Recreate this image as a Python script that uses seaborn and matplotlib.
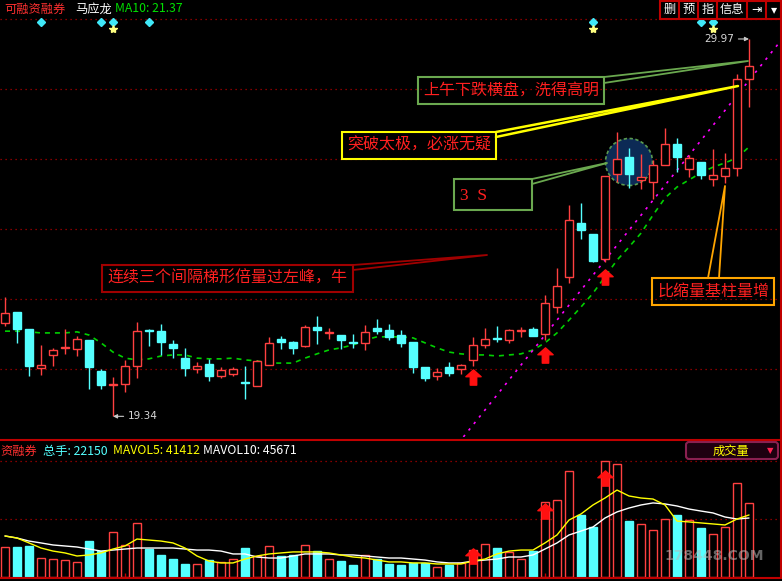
import numpy as np
import pandas as pd
import matplotlib
matplotlib.use('Agg')
import matplotlib.pyplot as plt
import matplotlib.transforms as mtransforms
from matplotlib.patches import Rectangle, Ellipse, FancyBboxPatch
from matplotlib.path import Path
import seaborn as sns

# ---- 日K数据 ----
open_px = [21.97, 22.28, 21.80, 20.70, 21.07, 21.27, 21.24, 21.49, 20.62, 20.22,
           20.25, 20.76, 21.77, 21.74, 21.38, 20.98, 20.67, 20.81, 20.48, 20.53,
           20.31, 20.19, 20.79, 21.52, 21.43, 21.32, 21.86, 21.69, 21.63, 21.43,
           21.41, 21.83, 21.77, 21.63, 21.43, 20.73, 20.48, 20.73, 20.67, 20.93,
           21.35, 21.55, 21.49, 21.74, 21.80, 21.66, 22.42, 23.27, 24.79, 24.48,
           23.77, 26.17, 26.65, 26.00, 25.94, 26.42, 27.01, 26.31, 26.51, 26.03,
           26.11, 26.34, 28.84]
high_px = [22.70, 22.28, 21.80, 21.35, 21.27, 21.80, 21.60, 21.49, 20.67, 20.45,
           20.93, 22.00, 21.80, 21.94, 21.49, 21.27, 20.87, 20.96, 20.73, 20.73,
           20.76, 20.93, 21.58, 21.60, 21.46, 21.91, 22.17, 21.83, 21.63, 21.66,
           21.91, 22.08, 21.94, 21.77, 21.43, 20.73, 20.70, 20.87, 20.81, 21.58,
           21.83, 21.89, 21.80, 21.86, 21.86, 22.76, 23.52, 25.29, 25.35, 24.48,
           26.11, 27.35, 26.90, 26.73, 26.56, 27.46, 27.18, 26.70, 26.51, 26.87,
           26.76, 28.98, 29.97]
low_px = [21.89, 21.41, 20.48, 20.51, 20.76, 21.10, 21.04, 20.11, 20.11, 19.34,
          20.03, 20.42, 21.32, 21.07, 20.98, 20.48, 20.56, 20.34, 20.42, 20.48,
          19.83, 20.19, 20.79, 21.24, 21.10, 21.29, 21.38, 21.52, 21.24, 21.27,
          21.21, 21.66, 21.49, 21.29, 20.56, 20.34, 20.36, 20.48, 20.53, 20.76,
          21.27, 21.43, 21.41, 21.58, 21.60, 21.49, 22.25, 23.10, 24.34, 23.69,
          23.69, 25.94, 25.77, 25.74, 25.46, 26.42, 26.22, 26.08, 26.03, 25.83,
          25.91, 26.11, 28.05]
close_px = [22.25, 21.80, 20.76, 20.79, 21.21, 21.29, 21.52, 20.73, 20.22, 20.25,
            20.76, 21.74, 21.74, 21.43, 21.27, 20.70, 20.76, 20.48, 20.65, 20.67,
            20.28, 20.90, 21.41, 21.43, 21.27, 21.86, 21.77, 21.72, 21.49, 21.41,
            21.72, 21.74, 21.58, 21.41, 20.73, 20.42, 20.59, 20.56, 20.79, 21.35,
            21.52, 21.52, 21.77, 21.77, 21.60, 22.53, 23.01, 24.87, 24.59, 23.72,
            26.11, 26.59, 26.17, 26.08, 26.42, 27.01, 26.65, 26.62, 26.14, 26.14,
            26.34, 28.84, 29.21]
ma10 = [21.74, 21.74, 21.72, 21.69, 21.69, 21.69, 21.72, 21.63, 21.41, 21.15,
        20.98, 20.93, 20.96, 21.04, 21.07, 21.07, 20.98, 20.96, 20.96, 20.98,
        20.93, 20.90, 20.84, 20.84, 20.84, 20.98, 21.10, 21.21, 21.27, 21.35,
        21.49, 21.58, 21.58, 21.58, 21.55, 21.41, 21.27, 21.15, 21.10, 21.07,
        21.07, 21.04, 21.07, 21.10, 21.21, 21.41, 21.69, 22.05, 22.42, 22.81,
        23.27, 23.74, 24.11, 24.50, 25.01, 25.49, 25.80, 26.00, 26.20, 26.36,
        26.48, 26.62, 26.93]

# ---- 成交量 (手) ----
volume = [20700, 20700, 21400, 13100, 12400, 11700, 10400, 24800, 17900, 31100,
          22100, 37300, 19300, 15200, 12400, 9000, 9000, 11700, 10400, 12400,
          20000, 14500, 21400, 14500, 15200, 22100, 17900, 12400, 11000, 8300,
          15200, 12400, 9000, 8300, 9700, 9700, 6900, 8300, 9700, 18600,
          22800, 20000, 17300, 12400, 17900, 51800, 53100, 73100, 42800, 34500,
          80000, 78000, 38600, 36600, 32400, 40000, 42800, 39300, 33800, 29700,
          34500, 64900, 51100]
mavol5 = [28300, 26900, 23500, 20000, 17900, 16600, 14500, 15200, 16600, 19300,
          21400, 26200, 25500, 24800, 23500, 20000, 14500, 11000, 9700, 9700,
          12400, 14500, 15900, 16600, 17300, 17300, 17300, 16600, 15200, 13800,
          13100, 11700, 10400, 10400, 9700, 9700, 9000, 9000, 9000, 11000,
          12400, 15900, 17900, 18600, 18600, 23500, 29000, 39300, 43500, 49700,
          54500, 60000, 55900, 54500, 53800, 49700, 38600, 38000, 37300, 36600,
          35900, 40000, 42800]
mavol10 = [28300, 26900, 24800, 23500, 22100, 21400, 20700, 19300, 17900, 18600,
           19300, 20000, 20000, 20000, 20000, 19300, 18600, 18600, 17900, 15900,
           15900, 13800, 13100, 13100, 14500, 15900, 15900, 15900, 15200, 15200,
           14500, 13800, 13100, 13100, 12400, 11700, 10400, 9700, 9700, 11000,
           11700, 12400, 13800, 13800, 15200, 19300, 23500, 29000, 31700, 34500,
           40700, 44900, 47600, 49700, 51100, 50400, 49000, 46900, 45500, 44200,
           41400, 40000, 40700]

# 信号标记
arrow_idx = [39, 45, 50]
arrow_price = [20.45, 21.07, 23.27]
vol_arrow_val = [14500, 45500, 68300]
diamond_idx = [3, 8, 9, 12, 49, 58, 59]
star_idx = [9, 49, 59]
trend_x = [38.2, 64.6]
trend_y = [18.76, 29.90]

RED = '#ff4040'
CYAN = '#55ffff'
GRID = '#b00000'

sns.set_style('dark', {'axes.facecolor': 'black', 'figure.facecolor': 'black'})
plt.rcParams['font.family'] = ['Noto Sans CJK SC', 'DejaVu Sans']
plt.rcParams['axes.unicode_minus'] = False

idx = np.arange(len(open_px))
o = np.array(open_px)
c = np.array(close_px)
up = c > o

fig = plt.figure(figsize=(7.82, 5.81), dpi=100)
fig.patch.set_facecolor('black')

# ---- 主图 ----
ax = fig.add_axes([0, 144 / 581, 780 / 782, 437 / 581])
ax.set_facecolor('black')

ax.add_patch(Ellipse((52, 26.505), 3.92, 1.324, facecolor='#0c2a55',
                     edgecolor='#5a9a50', linestyle=(0, (2, 1.5)), lw=1.2, zorder=1))

sns.lineplot(x=idx, y=ma10, ax=ax, color='#00d000', lw=1.2,
             linestyle=(0, (3, 3)), zorder=2)
sns.lineplot(x=trend_x, y=trend_y, ax=ax, color='#ff00ff', lw=1.2,
             linestyle=(0, (1.5, 3.5)), zorder=2)

colors = np.where(up, RED, CYAN)
ax.vlines(idx, low_px, high_px, colors=colors, lw=1, zorder=3)
body_h = np.maximum(np.abs(c - o), 0.02)
ax.bar(idx, body_h, bottom=np.minimum(o, c), width=0.72,
       facecolor=np.where(up, 'black', CYAN), edgecolor=colors, lw=1, zorder=4)

arrow_marker = Path([(0, 1), (-1, 0.1), (-0.42, 0.1), (-0.42, -1),
                     (0.42, -1), (0.42, 0.1), (1, 0.1), (0, 1)], closed=True)
ax.plot(arrow_idx, arrow_price, ls='none', marker=arrow_marker, ms=11,
        color='#ff1010', zorder=6)

trans = mtransforms.blended_transform_factory(ax.transData, ax.transAxes)
ax.plot(diamond_idx, [0.9497] * len(diamond_idx), ls='none', marker='D', ms=4.5,
        color='#40e8f8', transform=trans, zorder=6, clip_on=False)
ax.plot(star_idx, [0.9336] * len(star_idx), ls='none', marker='*', ms=6,
        color='#ffff80', transform=trans, zorder=6, clip_on=False)

ax.annotate('29.97', xy=(62, high_px[62]), xytext=(-11, 0), textcoords='offset points',
            ha='right', va='center', color='#d8d8d8', fontsize=7.5,
            family=['DejaVu Sans'],
            arrowprops=dict(arrowstyle='-|>', color='#c8c8c8', lw=0.8,
                            shrinkA=1, shrinkB=0, mutation_scale=6))
ax.annotate('19.34', xy=(9, low_px[9]), xytext=(11, 0), textcoords='offset points',
            ha='left', va='center', color='#d8d8d8', fontsize=7.5,
            family=['DejaVu Sans'],
            arrowprops=dict(arrowstyle='-|>', color='#c8c8c8', lw=0.8,
                            shrinkA=1, shrinkB=0, mutation_scale=6))

ax.set_xlim(-0.4167, 64.583)
ax.set_ylim(18.758, 31.068)
ax.set_yticks([20.674, 22.645, 24.617, 26.589, 28.561, 30.533])
ax.set_xticks([])
ax.grid(axis='y', color=GRID, linestyle=(0, (1, 3)), lw=0.9)
ax.tick_params(length=0, labelleft=False, labelbottom=False)
ax.set_xlabel('')
ax.set_ylabel('')
for s in ax.spines.values():
    s.set_visible(False)

# ---- 成交量副图 ----
axv = fig.add_axes([0, 3 / 581, 780 / 782, 141 / 581])
axv.set_facecolor('black')
vol_df = pd.DataFrame({'idx': idx, 'vol': volume, 'dir': np.where(up, 'up', 'down')})
sns.barplot(data=vol_df, x='idx', y='vol', hue='dir',
            palette={'up': RED, 'down': CYAN}, native_scale=True, width=0.72,
            saturation=1, legend=False, errorbar=None, linewidth=1, ax=axv)
for p in axv.patches:
    fc = p.get_facecolor()
    if fc[0] > 0.9 and fc[1] < 0.5:
        p.set_facecolor('black')
        p.set_edgecolor(RED)
    else:
        p.set_edgecolor(CYAN)
    p.set_zorder(3)
sns.lineplot(x=idx, y=mavol10, ax=axv, color='white', lw=1, zorder=4)
sns.lineplot(x=idx, y=mavol5, ax=axv, color='#ffff00', lw=1, zorder=4)
axv.plot(arrow_idx, vol_arrow_val, ls='none', marker=arrow_marker, ms=11,
         color='#ff1010', zorder=6)
axv.set_xlim(-0.4167, 64.583)
axv.set_ylim(-690, 96600)
axv.set_yticks([40000, 80000])
axv.set_xticks([])
axv.grid(axis='y', color=GRID, linestyle=(0, (1, 3)), lw=0.9)
axv.grid(axis='x', visible=False)
axv.tick_params(length=0, labelleft=False, labelbottom=False)
axv.set_xlabel('')
axv.set_ylabel('')
for s in axv.spines.values():
    s.set_visible(False)

# ---- 文字、边框、注释 (像素坐标层) ----
ov = fig.add_axes([0, 0, 1, 1], facecolor='none')
ov.set_xlim(0, 782)
ov.set_ylim(581, 0)
ov.axis('off')

ov.hlines([439.5, 577.5], 0, 782, color='#c00000', lw=1.5)
ov.vlines(781, 0, 578, color='#c00000', lw=1.5)
ov.vlines([125, 545], 573, 578, color='#c00000', lw=1)

hfs = 8.8
ov.text(4, 9, '可融资融券', color='#ff3030', fontsize=hfs, va='center')
ov.text(75, 9, '马应龙', color='white', fontsize=hfs, va='center')
ov.text(115, 9, 'MA10: 21.37', color='#00e000', fontsize=hfs, va='center')

ov.add_patch(Rectangle((660, 0.5), 121, 18, fill=False, ec='#c00000', lw=1.5))
ov.vlines([679, 698, 717, 747, 766], 0, 18.5, color='#c00000', lw=1.5)
for xt, s in zip([669.5, 688.5, 707.5, 732, 756.5, 774],
                 ['删', '预', '指', '信息', '⇥', '▾']):
    ov.text(xt, 9.5, s, color='white', fontsize=hfs, ha='center', va='center',
            family=['Noto Sans CJK SC', 'DejaVu Sans'])

ov.text(0.5, 451, '资融券', color='#ff3030', fontsize=hfs, va='center')
ov.text(43, 451, '总手: 22150', color=CYAN, fontsize=hfs, va='center')
ov.text(113, 451, 'MAVOL5: 41412', color='#ffff00', fontsize=hfs, va='center')
ov.text(203, 451, 'MAVOL10: 45671', color='white', fontsize=hfs, va='center')

ov.add_patch(FancyBboxPatch((686, 442), 92, 17, boxstyle='round,pad=0,rounding_size=3',
                            fc='#1e0010', ec='#8a2050', lw=1.5))
ov.text(731, 451, '成交量', color='#ffff00', fontsize=hfs, ha='center', va='center')
ov.text(770, 451, '▼', color='#ff2050', fontsize=6, ha='center', va='center',
        family=['DejaVu Sans'])

ov.text(714, 556, '178448.COM', color='#b8b8b8', alpha=0.55, fontsize=10,
        fontweight='bold', ha='center', va='center', family=['DejaVu Sans'])

# 注释框: (x0, y0, x1, y1, 文字, 边框色, 文字起点)
notes = [
    (418, 77, 604, 104, '上午下跌横盘，洗得高明', '#6aa84f', 423),
    (342, 132, 496, 159, '突破太极，必涨无疑', '#ffff00', 347),
    (102, 265, 353, 292, '连续三个间隔梯形倍量过左峰，牛', '#a00000', 107),
    (652, 278, 774, 305, '比缩量基柱量增', '#ffa500', 658),
]
for x0, y0, x1, y1, txt, ec, tx in notes:
    ov.add_patch(Rectangle((x0, y0), x1 - x0, y1 - y0, fill=False, ec=ec, lw=1.5))
    ov.text(tx, (y0 + y1) / 2, txt, color='#ff2020', fontsize=11.5, va='center')

ov.add_patch(Rectangle((454, 179), 78, 31, fill=False, ec='#6aa84f', lw=1.5))
ov.text(460, 196, '3  S', color='#ff2020', fontsize=12.5, va='center',
        family=['Liberation Serif'])

leaders = [
    ([604, 748, 604], [77, 61, 83], '#6aa84f', 1.3),
    ([496, 738, 496], [132, 86, 137], '#ffff00', 1.8),
    ([532, 607, 532], [179, 163, 184], '#6aa84f', 1.3),
    ([353, 487, 353], [265, 255, 270], '#a00000', 1.3),
    ([708, 725, 719], [278, 186, 278], '#ffa500', 1.3),
]
for xs, ys, col, lw in leaders:
    ov.plot(xs, ys, color=col, lw=lw)

plt.savefig('out.png', dpi=100, facecolor='black')
plt.close()
